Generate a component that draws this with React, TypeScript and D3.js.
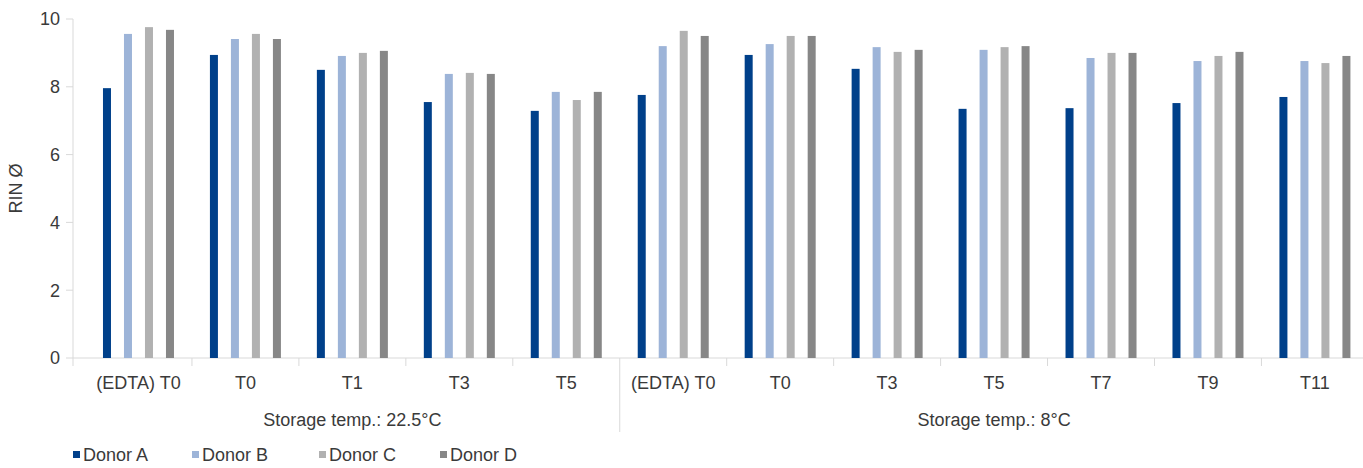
import React, { useEffect, useRef } from "react";
import * as d3 from "d3";

// categories (two storage temperature groups)
const groupLabels = ["Storage temp.: 22.5°C", "Storage temp.: 8°C"];
const categories225 = ["(EDTA) T0", "T0", "T1", "T3", "T5"];
const categories8 = ["(EDTA) T0", "T0", "T3", "T5", "T7", "T9", "T11"];

const seriesNames = ["Donor A", "Donor B", "Donor C", "Donor D"];
const seriesColors = ["#00408a", "#9db4d8", "#b1b1b1", "#878787"];

// RIN values, 22.5°C categories first, then 8°C
const donorA = [7.96, 8.94, 8.5, 7.55, 7.29, 7.76, 8.94, 8.53, 7.35, 7.37, 7.52, 7.7];
const donorB = [9.56, 9.41, 8.91, 8.38, 7.85, 9.2, 9.26, 9.17, 9.09, 8.85, 8.76, 8.76];
const donorC = [9.76, 9.56, 9.0, 8.41, 7.61, 9.65, 9.5, 9.03, 9.17, 9.0, 8.91, 8.7];
const donorD = [9.68, 9.41, 9.06, 8.38, 7.85, 9.5, 9.5, 9.09, 9.2, 9.0, 9.03, 8.91];

const yTicks = [0, 2, 4, 6, 8, 10];

const W = 1363;
const H = 468;
const FONT = "'Liberation Sans', Arial, sans-serif";
const FS = 18;
const TEXT = "#3a3a3a";
const LINE = "#d9d9d9";

export default function App() {
	const svgRef = useRef<SVGSVGElement>(null);

	useEffect(() => {
		document.body.style.margin = "0";
		const svg = d3.select(svgRef.current);
		svg.selectAll("*").remove();

		const cats = [
			...categories225.map((c, i) => ({ key: `a${i}`, label: c, group: 0 })),
			...categories8.map((c, i) => ({ key: `b${i}`, label: c, group: 1 })),
		];
		const values = [donorA, donorB, donorC, donorD];

		const axisLeft = 73;
		const x0 = d3
			.scaleBand<string>()
			.domain(cats.map((c) => c.key))
			.range([85, 85 + 12 * 106.95])
			.padding(0);
		const x1 = d3
			.scaleBand<string>()
			.domain(seriesNames)
			.range([-42, 42])
			.paddingInner(13 / 21)
			.paddingOuter(13 / 42);
		const y = d3.scaleLinear().domain([0, 10]).range([358, 19]);

		// y axis
		const ya = svg.append("g").attr("font-family", FONT);
		ya.append("line")
			.attr("x1", axisLeft)
			.attr("x2", axisLeft)
			.attr("y1", y(10))
			.attr("y2", y(0))
			.attr("stroke", LINE);
		ya.selectAll(".yt")
			.data(yTicks)
			.join("line")
			.attr("x1", axisLeft - 7)
			.attr("x2", axisLeft)
			.attr("y1", (d) => y(d))
			.attr("y2", (d) => y(d))
			.attr("stroke", LINE);
		ya.selectAll(".yl")
			.data(yTicks)
			.join("text")
			.attr("x", 60)
			.attr("y", (d) => y(d))
			.attr("dy", "0.36em")
			.attr("text-anchor", "end")
			.attr("font-size", FS)
			.attr("fill", TEXT)
			.text((d) => d);
		ya.append("text")
			.attr("transform", `translate(22, ${(y(0) + y(10)) / 2}) rotate(-90)`)
			.attr("text-anchor", "middle")
			.attr("font-size", FS)
			.attr("fill", TEXT)
			.text("RIN Ø");

		// x axis
		const xa = svg.append("g").attr("font-family", FONT);
		xa.append("line")
			.attr("x1", axisLeft)
			.attr("x2", W)
			.attr("y1", y(0))
			.attr("y2", y(0))
			.attr("stroke", LINE);
		const bounds = [axisLeft, ...cats.slice(1).map((c) => x0(c.key)!), 85 + 12 * 106.95];
		xa.selectAll(".xt")
			.data(bounds)
			.join("line")
			.attr("x1", (d) => d)
			.attr("x2", (d) => d)
			.attr("y1", y(0))
			.attr("y2", (d, i) => (i === categories225.length ? 432 : y(0) + 8))
			.attr("stroke", LINE);
		xa.selectAll(".xl")
			.data(cats)
			.join("text")
			.attr("x", (d) => x0(d.key)! + x0.bandwidth() / 2)
			.attr("y", 389)
			.attr("text-anchor", "middle")
			.attr("font-size", FS)
			.attr("fill", TEXT)
			.text((d) => d.label);
		groupLabels.forEach((g, gi) => {
			const members = cats.filter((c) => c.group === gi);
			const left = x0(members[0].key)!;
			const right = x0(members[members.length - 1].key)! + x0.bandwidth();
			xa.append("text")
				.attr("x", (left + right) / 2)
				.attr("y", 426)
				.attr("text-anchor", "middle")
				.attr("font-size", FS)
				.attr("fill", TEXT)
				.text(g);
		});

		// bars
		seriesNames.forEach((s, si) => {
			svg.append("g")
				.selectAll("rect")
				.data(cats)
				.join("rect")
				.attr("x", (d) => x0(d.key)! + x0.bandwidth() / 2 + x1(s)!)
				.attr("width", x1.bandwidth())
				.attr("y", (d, i) => y(values[si][i]))
				.attr("height", (d, i) => y(0) - y(values[si][i]))
				.attr("fill", seriesColors[si]);
		});

		// legend
		const legendX = [73, 192, 319, 440];
		const lg = svg
			.append("g")
			.attr("font-family", FONT)
			.selectAll("g")
			.data(seriesNames)
			.join("g")
			.attr("transform", (d, i) => `translate(${legendX[i]}, 455)`);
		lg.append("rect")
			.attr("x", 0)
			.attr("y", -4)
			.attr("width", 7)
			.attr("height", 7)
			.attr("fill", (d, i) => seriesColors[i]);
		lg.append("text")
			.attr("x", 10)
			.attr("y", 0)
			.attr("dy", "0.36em")
			.attr("font-size", FS)
			.attr("fill", TEXT)
			.text((d) => d);
	}, []);

	return <svg ref={svgRef} width={W} height={H} style={{ display: "block" }}></svg>;
}
